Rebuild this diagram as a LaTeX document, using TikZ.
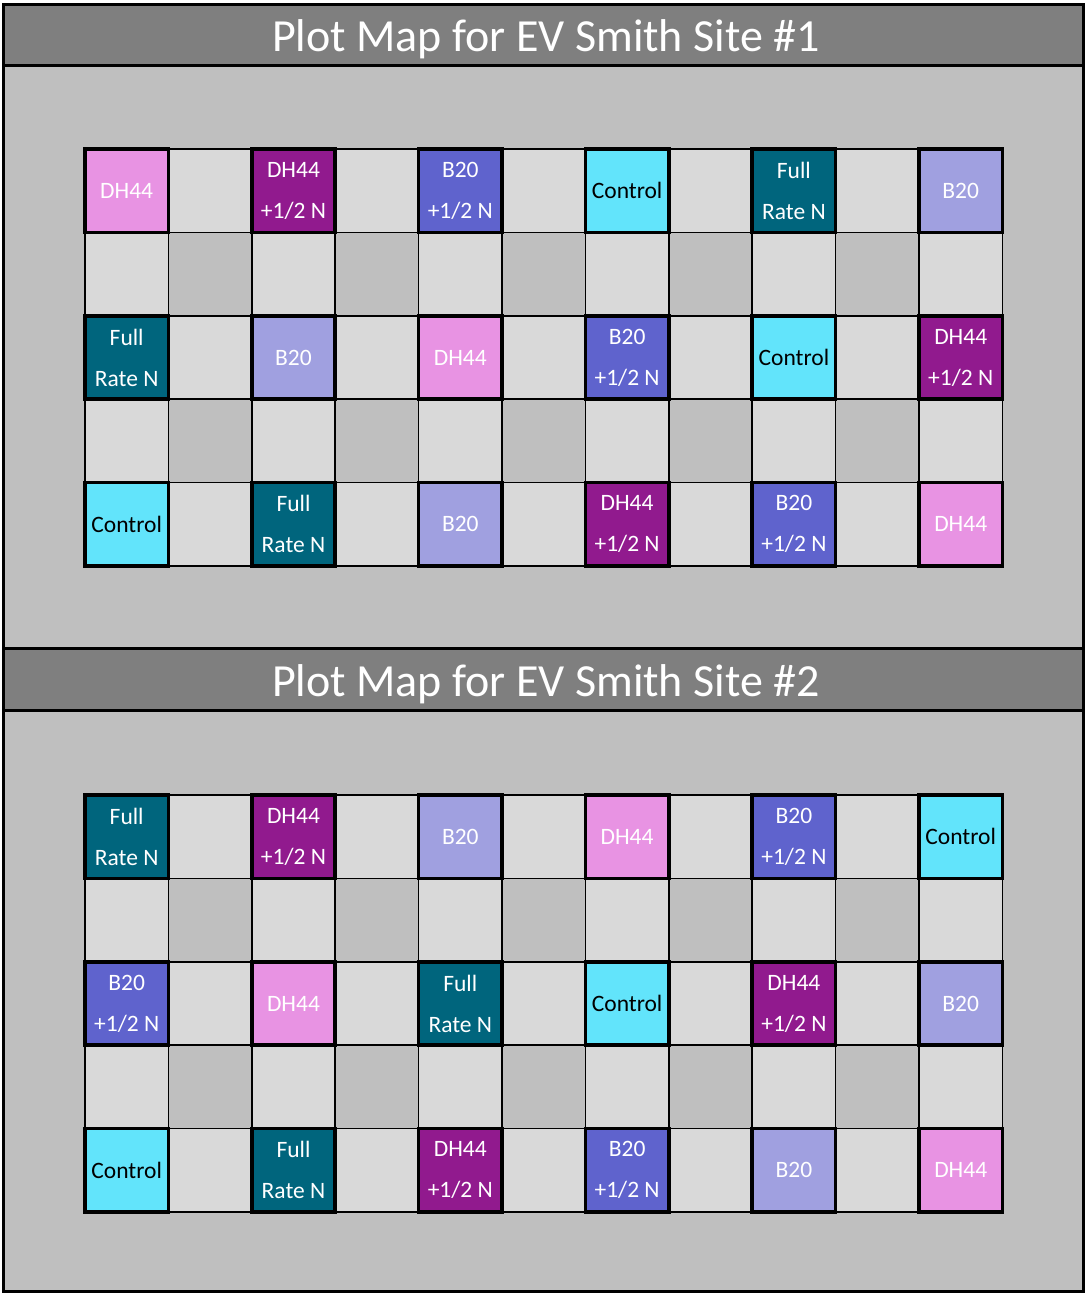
\documentclass[tikz,border=0pt]{standalone}
\usepackage{fontspec}
\setmainfont{Carlito}
\definecolor{bgGray}{HTML}{BFBFBF}
\definecolor{barGray}{HTML}{7F7F7F}
\definecolor{cellL}{HTML}{D9D9D9}
\definecolor{cellD}{HTML}{BFBFBF}
\definecolor{dhC}{HTML}{E893E3}
\definecolor{dhnC}{HTML}{911A8E}
\definecolor{bC}{HTML}{A0A0E0}
\definecolor{bnC}{HTML}{5F63CD}
\definecolor{ctlC}{HTML}{62E4FB}
\definecolor{fullC}{HTML}{00657D}
\tikzset{
  cellbox/.style={draw=black, line width=1.6pt, minimum width=83.4pt, minimum height=83.4pt,
    inner sep=0pt, outer sep=0pt, anchor=north west},
  plotbox/.style={cellbox, line width=3.6pt, text=white, align=center,
    font=\fontsize{23.5}{41}\selectfont},
  dh/.style={plotbox, fill=dhC},
  dhn/.style={plotbox, fill=dhnC},
  bb/.style={plotbox, fill=bC},
  bn/.style={plotbox, fill=bnC},
  ctl/.style={plotbox, fill=ctlC, text=black},
  full/.style={plotbox, fill=fullC},
  titlebar/.style={draw=black, line width=3pt, fill=barGray},
  panelbody/.style={draw=black, line width=3pt, fill=bgGray},
  titletext/.style={text=white, font=\fontsize{46}{50}\selectfont}
}
\newcommand{\grayGrid}[2]{%
  \foreach \r in {0,...,4}{%
    \foreach \c in {0,...,10}{%
      \pgfmathsetmacro{\dk}{int(mod(\r,2)*mod(\c,2))}%
      \ifnum\dk=1
        \node[cellbox, fill=cellD] (#2-\r-\c) at ({85+\c*83.4},{#1+\r*83.4}) {};
      \else
        \node[cellbox, fill=cellL] (#2-\r-\c) at ({85+\c*83.4},{#1+\r*83.4}) {};
      \fi
    }%
  }%
}
\begin{document}
\begin{tikzpicture}[x=1pt,y=-1pt]
\useasboundingbox (0,0) rectangle (1085,1293);
% Panel 1
\draw[panelbody] (3,4) rectangle (1083,648);
\draw[titlebar] (3,4) rectangle (1083,65);
\node[titletext] (title1) at (546,39) {Plot Map for EV Smith Site \#1};
\grayGrid{149}{g1}
% row 0
\node[dh]   (a00) at ({85+0*83.4},{149+0*83.4}) {DH44};
\node[dhn]  (a02) at ({85+2*83.4},{149+0*83.4}) {DH44\\+1/2 N};
\node[bn]   (a04) at ({85+4*83.4},{149+0*83.4}) {B20\\+1/2 N};
\node[ctl]  (a06) at ({85+6*83.4},{149+0*83.4}) {Control};
\node[full] (a08) at ({85+8*83.4},{149+0*83.4}) {Full\\Rate N};
\node[bb]   (a010) at ({85+10*83.4},{149+0*83.4}) {B20};
% row 2
\node[full] (a20) at ({85+0*83.4},{149+2*83.4}) {Full\\Rate N};
\node[bb]   (a22) at ({85+2*83.4},{149+2*83.4}) {B20};
\node[dh]   (a24) at ({85+4*83.4},{149+2*83.4}) {DH44};
\node[bn]   (a26) at ({85+6*83.4},{149+2*83.4}) {B20\\+1/2 N};
\node[ctl]  (a28) at ({85+8*83.4},{149+2*83.4}) {Control};
\node[dhn]  (a210) at ({85+10*83.4},{149+2*83.4}) {DH44\\+1/2 N};
% row 4
\node[ctl]  (a40) at ({85+0*83.4},{149+4*83.4}) {Control};
\node[full] (a42) at ({85+2*83.4},{149+4*83.4}) {Full\\Rate N};
\node[bb]   (a44) at ({85+4*83.4},{149+4*83.4}) {B20};
\node[dhn]  (a46) at ({85+6*83.4},{149+4*83.4}) {DH44\\+1/2 N};
\node[bn]   (a48) at ({85+8*83.4},{149+4*83.4}) {B20\\+1/2 N};
\node[dh]   (a410) at ({85+10*83.4},{149+4*83.4}) {DH44};
% Panel 2
\draw[panelbody] (3,648) rectangle (1083,1291);
\draw[titlebar] (3,648) rectangle (1083,710);
\node[titletext] (title2) at (546,684) {Plot Map for EV Smith Site \#2};
\grayGrid{795}{g2}
% row 0
\node[full] (b00) at ({85+0*83.4},{795+0*83.4}) {Full\\Rate N};
\node[dhn]  (b02) at ({85+2*83.4},{795+0*83.4}) {DH44\\+1/2 N};
\node[bb]   (b04) at ({85+4*83.4},{795+0*83.4}) {B20};
\node[dh]   (b06) at ({85+6*83.4},{795+0*83.4}) {DH44};
\node[bn]   (b08) at ({85+8*83.4},{795+0*83.4}) {B20\\+1/2 N};
\node[ctl]  (b010) at ({85+10*83.4},{795+0*83.4}) {Control};
% row 2
\node[bn]   (b20) at ({85+0*83.4},{795+2*83.4}) {B20\\+1/2 N};
\node[dh]   (b22) at ({85+2*83.4},{795+2*83.4}) {DH44};
\node[full] (b24) at ({85+4*83.4},{795+2*83.4}) {Full\\Rate N};
\node[ctl]  (b26) at ({85+6*83.4},{795+2*83.4}) {Control};
\node[dhn]  (b28) at ({85+8*83.4},{795+2*83.4}) {DH44\\+1/2 N};
\node[bb]   (b210) at ({85+10*83.4},{795+2*83.4}) {B20};
% row 4
\node[ctl]  (b40) at ({85+0*83.4},{795+4*83.4}) {Control};
\node[full] (b42) at ({85+2*83.4},{795+4*83.4}) {Full\\Rate N};
\node[dhn]  (b44) at ({85+4*83.4},{795+4*83.4}) {DH44\\+1/2 N};
\node[bn]   (b46) at ({85+6*83.4},{795+4*83.4}) {B20\\+1/2 N};
\node[bb]   (b48) at ({85+8*83.4},{795+4*83.4}) {B20};
\node[dh]   (b410) at ({85+10*83.4},{795+4*83.4}) {DH44};
\end{tikzpicture}
\end{document}
